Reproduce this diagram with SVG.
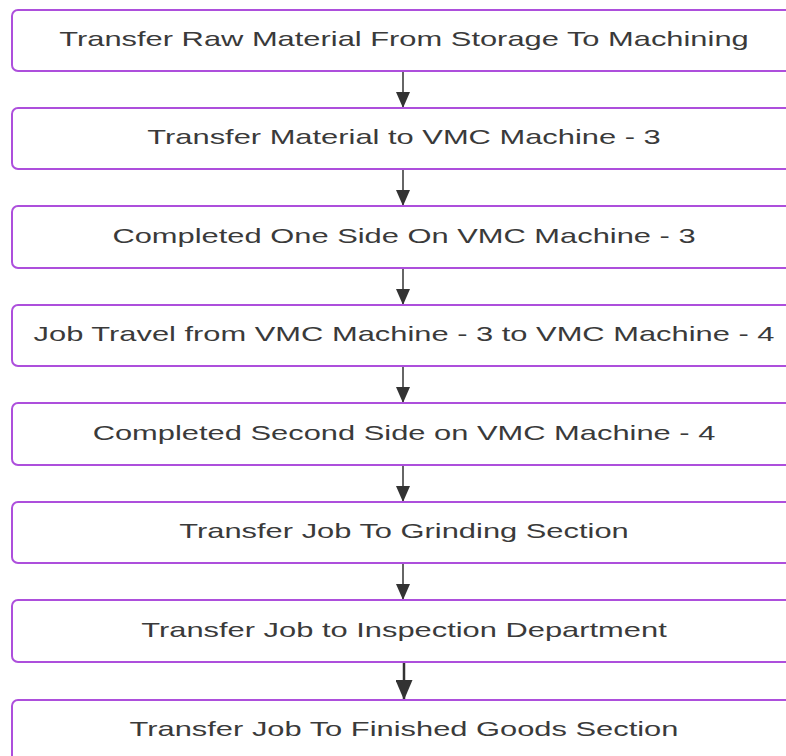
<svg xmlns="http://www.w3.org/2000/svg" width="786" height="756" viewBox="0 0 786 756">
<defs>
<style>
.box{fill:#ffffff;stroke:#ad4fdc;stroke-width:2}
.lbl{font-family:"Liberation Sans",Arial,sans-serif;font-size:21px;fill:#3a3a3a;text-anchor:middle}
.ln{stroke:#333333;stroke-width:1.5;fill:none}
.ln2{stroke:#333333;stroke-width:2.5;fill:none}
</style>
<marker id="ah" markerWidth="14" markerHeight="16" refX="7" refY="16" markerUnits="userSpaceOnUse" viewBox="0 0 14 16">
<path d="M0,0 L14,0 L7,16 Z" fill="#333333"/>
</marker>
<marker id="ah2" markerWidth="17" markerHeight="20" refX="8.5" refY="20" markerUnits="userSpaceOnUse" viewBox="0 0 17 20">
<path d="M0,0 L17,0 L8.5,20 Z" fill="#333333"/>
</marker>
</defs>
<rect width="786" height="756" fill="#ffffff"/>
<g id="connectors">
<line class="ln" x1="403" y1="71" x2="403" y2="108" marker-end="url(#ah)"/>
<line class="ln" x1="403" y1="169" x2="403" y2="206" marker-end="url(#ah)"/>
<line class="ln" x1="403" y1="268" x2="403" y2="305" marker-end="url(#ah)"/>
<line class="ln" x1="403" y1="366" x2="403" y2="403" marker-end="url(#ah)"/>
<line class="ln" x1="403" y1="465" x2="403" y2="502" marker-end="url(#ah)"/>
<line class="ln" x1="403" y1="563" x2="403" y2="600" marker-end="url(#ah)"/>
<line class="ln2" x1="404" y1="662" x2="404" y2="700" marker-end="url(#ah2)"/>
</g>
<g id="n1"><rect class="box" x="12" y="10" width="784" height="61" rx="6"/><text class="lbl" transform="translate(404,46) scale(1.47,1)">Transfer Raw Material From Storage To Machining</text></g>
<g id="n2"><rect class="box" x="12" y="108" width="784" height="61" rx="6"/><text class="lbl" transform="translate(404,144) scale(1.47,1)">Transfer Material to VMC Machine - 3</text></g>
<g id="n3"><rect class="box" x="12" y="206" width="784" height="62" rx="6"/><text class="lbl" transform="translate(404,243) scale(1.47,1)">Completed One Side On VMC Machine - 3</text></g>
<g id="n4"><rect class="box" x="12" y="305" width="784" height="61" rx="6"/><text class="lbl" transform="translate(404,341) scale(1.47,1)">Job Travel from VMC Machine - 3 to VMC Machine - 4</text></g>
<g id="n5"><rect class="box" x="12" y="403" width="784" height="62" rx="6"/><text class="lbl" transform="translate(404,440) scale(1.47,1)">Completed Second Side on VMC Machine - 4</text></g>
<g id="n6"><rect class="box" x="12" y="502" width="784" height="61" rx="6"/><text class="lbl" transform="translate(404,538) scale(1.47,1)">Transfer Job To Grinding Section</text></g>
<g id="n7"><rect class="box" x="12" y="600" width="784" height="62" rx="6"/><text class="lbl" transform="translate(404,637) scale(1.47,1)">Transfer Job to Inspection Department</text></g>
<g id="n8"><rect class="box" x="12" y="700" width="784" height="70" rx="6"/><text class="lbl" transform="translate(404,736) scale(1.47,1)">Transfer Job To Finished Goods Section</text></g>
</svg>
